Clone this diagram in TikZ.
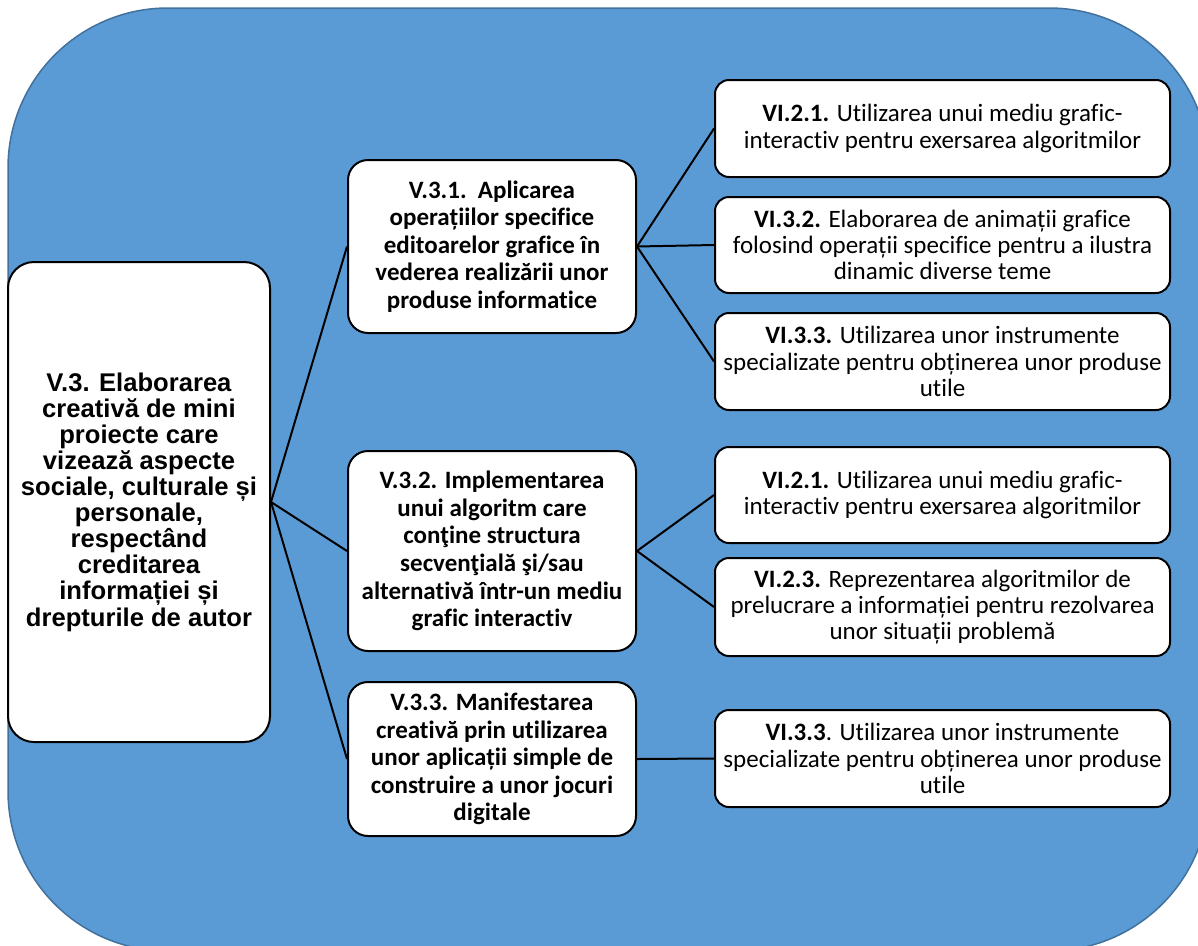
\documentclass[tikz,border=0pt]{standalone}
\usepackage{fontspec}
\setmainfont{Carlito}[Ligatures=NoCommon]
\newfontfamily\arialfont{Liberation Sans}
\definecolor{bgblue}{HTML}{5B9BD5}
\definecolor{bgedge}{HTML}{41719C}
\tikzset{
  box/.style={draw=black, line width=2pt, fill=white, align=center, inner sep=0pt},
  leftbox/.style={box, rounded corners=26pt, minimum width=262pt, minimum height=480pt,
     font=\arialfont\bfseries\fontsize{25.6}{26.1}\selectfont},
  midbox/.style={box, rounded corners=20pt, minimum width=288pt,
     font=\bfseries\fontsize{25}{27.6}\selectfont},
  rightbox/.style={box, rounded corners=14pt, minimum width=455pt, minimum height=97pt,
     font=\fontsize{25}{26.4}\selectfont},
  link/.style={draw=black, line width=2pt}
}
\begin{document}
\begin{tikzpicture}[x=1pt,y=-1pt]
\useasboundingbox (0,0) rectangle (1198,945);
\begin{scope}
\clip (0,0) rectangle (1198,945);
\draw[fill=bgblue, draw=bgedge, line width=1.5pt, rounded corners=160pt] (8,8) rectangle (1209,951);
\end{scope}

\node[leftbox] (L) at (139,502) {V.3. Elaborarea\\creativă de mini\\proiecte care\\vizează aspecte\\sociale, culturale și\\personale,\\respectând\\creditarea\\informației și\\drepturile de autor};

\node[midbox, minimum height=173pt] (M1) at (492,246.5) {V.3.1.\ \ Aplicarea\\operațiilor specifice\\editoarelor grafice în\\vederea realizării unor\\produse informatice};
\node[midbox, minimum height=200pt] (M2) at (492,551) {V.3.2. Implementarea\\unui algoritm care\\conţine structura\\secvenţială şi/sau\\alternativă într-un mediu\\grafic interactiv};
\node[midbox, minimum height=154pt] (M3) at (492,759) {V.3.3. Manifestarea\\creativă prin utilizarea\\unor aplicații simple de\\construire a unor jocuri\\digitale};

\node[rightbox] (R1) at (942.5,128.5) {\textbf{VI.2.1.} Utilizarea unui mediu grafic-\\interactiv pentru exersarea algoritmilor};
\node[rightbox, minimum height=96pt] (R2) at (942.5,245) {\textbf{VI.3.2.} Elaborarea de animații grafice\\folosind operații specifice pentru a ilustra\\dinamic diverse teme};
\node[rightbox] (R3) at (942.5,361.5) {\textbf{VI.3.3.} Utilizarea unor instrumente\\specializate pentru obținerea unor produse\\utile};
\node[rightbox, minimum height=96pt] (R4) at (942.5,495) {\textbf{VI.2.1.} Utilizarea unui mediu grafic-\\interactiv pentru exersarea algoritmilor};
\node[rightbox, minimum height=98pt] (R5) at (942.5,607) {\textbf{VI.2.3.} Reprezentarea algoritmilor de\\prelucrare a informației pentru rezolvarea\\unor situații problemă};
\node[rightbox] (R6) at (942.5,758.5) {\textbf{VI.3.3}. Utilizarea unor instrumente\\specializate pentru obținerea unor produse\\utile};

\draw[link] (L.east) -- (M1.west);
\draw[link] (L.east) -- (M2.west);
\draw[link] (L.east) -- (M3.west);
\draw[link] (M1.east) -- (R1.west);
\draw[link] (M1.east) -- (R2.west);
\draw[link] (M1.east) -- (R3.west);
\draw[link] (M2.east) -- (R4.west);
\draw[link] (M2.east) -- (R5.west);
\draw[link] (M3.east) -- (R6.west);
\end{tikzpicture}
\end{document}
